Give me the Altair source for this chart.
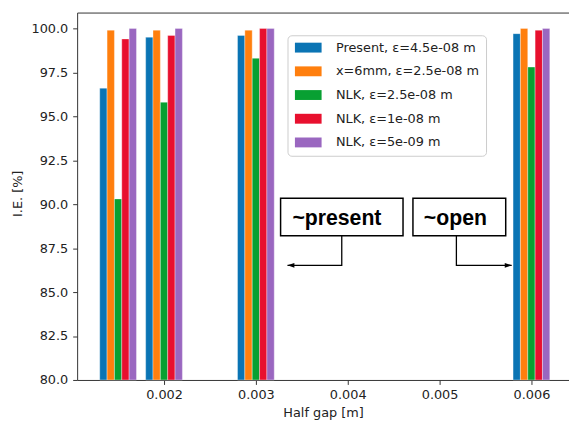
import altair as alt
import pandas as pd

# ---- data ----
half_gap = [0.0015, 0.002, 0.003, 0.006]
series = ["Present, ε=4.5e-08 m", "x=6mm, ε=2.5e-08 m", "NLK, ε=2.5e-08 m",
          "NLK, ε=1e-08 m", "NLK, ε=5e-09 m"]
present = [96.6, 99.5, 99.6, 99.7]
x6mm = [99.9, 99.9, 99.9, 100.0]
nlk_25 = [90.3, 95.8, 98.3, 97.8]
nlk_10 = [99.4, 99.6, 100.0, 99.9]
nlk_5 = [100.0, 100.0, 100.0, 100.0]
colors = ["#0a74b4", "#ff7f0e", "#08a032", "#e8102e", "#9a67c0"]

# annotations (data coordinates)
ann_label = ["~present", "~open"]
ann_box_x1 = [0.003269, 0.00471]
ann_box_x2 = [0.004602, 0.00572]
ann_box_y1 = [88.2, 88.2]
ann_box_y2 = [90.34, 90.34]
ann_text_x = [0.003882, 0.005172]
ann_text_y = [88.82, 88.82]
ann_path_x = [[0.003935, 0.003935, 0.003344], [0.005183, 0.005183, 0.005785]]
ann_path_y = [[88.2, 86.52, 86.52], [88.2, 86.52, 86.52]]

BAR_W = 0.00008
XDOM = [0.001054, 0.006409]
YDOM = [80, 100.9]

rows = []
for si, (name, vals) in enumerate(zip(series, [present, x6mm, nlk_25, nlk_10, nlk_5])):
    for g, v in zip(half_gap, vals):
        c = g + (si - 2) * BAR_W
        rows.append({"series": name, "x1": c - BAR_W / 2, "x2": c + BAR_W / 2, "ie": v})
bars_df = pd.DataFrame(rows)

box_df = pd.DataFrame({"label": ann_label, "x1": ann_box_x1, "x2": ann_box_x2,
                       "y1": ann_box_y1, "y2": ann_box_y2,
                       "tx": ann_text_x, "ty": ann_text_y})
path_rows = []
for k, lab in enumerate(ann_label):
    for j, (px, py) in enumerate(zip(ann_path_x[k], ann_path_y[k])):
        path_rows.append({"label": lab, "order": j, "px": px, "py": py})
path_df = pd.DataFrame(path_rows)
tip_left = path_df[(path_df.label == "~present") & (path_df.order == 2)]
tip_right = path_df[(path_df.label == "~open") & (path_df.order == 2)]

xscale = alt.Scale(domain=XDOM, nice=False, zero=False)
yscale = alt.Scale(domain=YDOM, nice=False, zero=False)

bars = alt.Chart(bars_df).mark_bar(stroke="white", strokeWidth=0.5, strokeOpacity=0.7).encode(
    x=alt.X("x1:Q", scale=xscale,
            axis=alt.Axis(values=[0.002, 0.003, 0.004, 0.005, 0.006], format=".3f",
                          title="Half gap [m]", grid=False, tickSize=4.5,
                          labelPadding=4, titlePadding=5)),
    x2="x2:Q",
    y=alt.Y("ie:Q", scale=yscale,
            axis=alt.Axis(values=[80, 82.5, 85, 87.5, 90, 92.5, 95, 97.5, 100],
                          format=".1f", title="I.E. [%]", grid=False, tickSize=4.5,
                          labelPadding=5, titleX=-60, titleY=183,
                          titleBaseline="middle")),
    y2=alt.datum(80),
    color=alt.Color("series:N", sort=series,
                    scale=alt.Scale(domain=series, range=colors),
                    legend=alt.Legend(title=None, orient="none", legendX=213, legendY=23,
                                      symbolType="M-1,-1H4.4V1H-1Z", symbolSize=100,
                                      symbolStrokeWidth=0, labelOffset=30,
                                      rowPadding=10, padding=6,
                                      strokeColor="#cccccc", cornerRadius=4,
                                      fillColor="rgba(255,255,255,0.85)")),
)

boxes = alt.Chart(box_df).mark_rect(fill="white", stroke="black", strokeWidth=1.5).encode(
    x=alt.X("x1:Q", scale=xscale,
            axis=alt.Axis(orient="top", labels=False, ticks=False, title=None,
                          grid=False, domain=True)),
    x2="x2:Q",
    y=alt.Y("y1:Q", scale=yscale, axis=None),
    y2="y2:Q",
)

texts = alt.Chart(box_df).mark_text(font="Liberation Sans", fontWeight="bold", fontSize=21.5,
                                    align="center", baseline="alphabetic", color="black").encode(
    x=alt.X("tx:Q", scale=xscale, axis=None),
    y=alt.Y("ty:Q", scale=yscale, axis=None),
    text="label:N",
)

lines = alt.Chart(path_df).mark_line(color="black", strokeWidth=1.3).encode(
    x=alt.X("px:Q", scale=xscale, axis=None),
    y=alt.Y("py:Q", scale=yscale, axis=None),
    detail="label:N",
    order="order:Q",
)

head_l = alt.Chart(tip_left).mark_point(shape="M0,0L2,-0.7L2,0.7Z", size=49, filled=True,
                                        color="black", opacity=1).encode(
    x=alt.X("px:Q", scale=xscale, axis=None),
    y=alt.Y("py:Q", scale=yscale, axis=None),
)
head_r = alt.Chart(tip_right).mark_point(shape="M0,0L-2,-0.7L-2,0.7Z", size=49, filled=True,
                                         color="black", opacity=1).encode(
    x=alt.X("px:Q", scale=xscale, axis=None),
    y=alt.Y("py:Q", scale=yscale, axis=None),
)

chart = alt.layer(bars, boxes, texts, lines, head_l, head_r).resolve_axis(
    x="independent", y="independent"
).properties(
    width=498, height=372,
    autosize=alt.AutoSizeParams(type="none"),
    padding={"left": 70, "top": 2, "right": 0, "bottom": 45},
).configure_view(stroke=None).configure_axis(
    labelFont="DejaVu Sans", titleFont="DejaVu Sans", labelFontSize=13,
    titleFontSize=13, labelColor="#222222", titleColor="#222222",
    titleFontWeight="normal", domainColor="#333333", tickColor="#333333",
    domainWidth=1, tickWidth=1,
).configure_legend(
    labelFont="DejaVu Sans", labelFontSize=13, labelColor="#222222",
)

chart.save("out.html", embed_options={"renderer": "svg", "actions": False})
